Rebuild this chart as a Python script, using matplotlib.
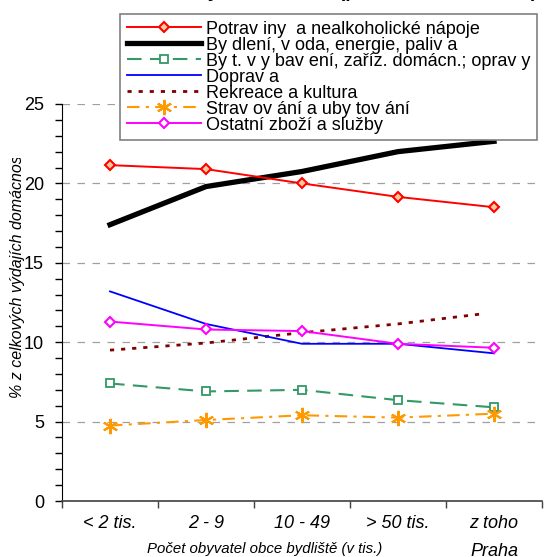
import matplotlib
matplotlib.use("Agg")
import matplotlib.pyplot as plt
from matplotlib.transforms import Bbox, TransformedBbox
from matplotlib.ticker import MultipleLocator, FixedLocator, NullFormatter

plt.rcParams["font.family"] = ["Liberation Sans", "DejaVu Sans"]

# Data
categories = ["< 2 tis.", "2 - 9", "10 - 49", "> 50 tis.", "z toho\nPraha"]
potraviny = [21.15, 20.9, 20.0, 19.15, 18.5]
bydleni = [17.4, 19.8, 20.75, 22.0, 22.65]
vybaveni = [7.4, 6.9, 7.0, 6.35, 5.9]
doprava = [13.2, 11.15, 9.9, 9.9, 9.3]
rekreace = [9.5, 9.95, 10.6, 11.15, 11.8]
stravovani = [4.75, 5.1, 5.4, 5.25, 5.5]
ostatni = [11.3, 10.8, 10.7, 9.9, 9.65]

# legend texts as they are rendered in the reference
labels = ["Potrav iny  a nealkoholické nápoje",
          "By dlení, v oda, energie, paliv a",
          "By t. v y bav ení, zaříz. domácn.; oprav y",
          "Doprav a",
          "Rekreace a kultura",
          "Strav ov ání a uby tov ání",
          "Ostatní zboží a služby"]

x = list(range(len(categories)))

fig = plt.figure(figsize=(5.49, 5.57), dpi=100)
ax = fig.add_axes([62 / 549, 1 - 501 / 557, 480 / 549, 397 / 557])

ax.plot(x, potraviny, color="#FF0000", lw=1.4, marker="D", ms=5,
        mfc="#FFCC99", mec="#FF0000", mew=1.5, label=labels[0], zorder=5)
ax.plot(x, bydleni, color="black", lw=3.8, label=labels[1], zorder=4)
ax.plot(x, vybaveni, color="#339966", lw=1.5, dashes=(7, 4), marker="s", ms=6,
        mfc="white", mec="#339966", mew=1.3, label=labels[2], zorder=4)
ax.plot(x, doprava, color="#0000FF", lw=1.3, label=labels[3], zorder=4)
ax.plot(x[:-1] + [x[-1] - 0.1], rekreace, color="#800000", lw=2, dashes=(1.5, 2.5),
        label=labels[4], zorder=3)
ax.plot(x, stravovani, color="#FF9900", lw=1.5, dashes=(6, 3, 1.5, 3), marker=(6, 2, 0),
        ms=11, mec="#FF9900", mew=1.5, label=labels[5], zorder=4)
ax.plot(x, ostatni, color="#FF00FF", lw=1.4, marker="D", ms=5,
        mfc="white", mec="#FF00FF", mew=1.5, label=labels[6], zorder=5)

ax.set_xlim(-0.5, 4.5)
ax.set_ylim(0, 25)

ax.yaxis.set_major_locator(MultipleLocator(5))
ax.yaxis.set_minor_locator(MultipleLocator(1))
ax.grid(axis="y", which="major", color="#A0A0A0", ls=(0, (6, 6)), lw=0.9)
ax.set_axisbelow(True)

ax.xaxis.set_major_locator(FixedLocator(x))
ax.set_xticklabels(categories, fontsize=13, style="italic", linespacing=1.85)
ax.xaxis.set_minor_locator(FixedLocator([i - 0.5 for i in range(6)]))
ax.xaxis.set_minor_formatter(NullFormatter())
ax.tick_params(axis="x", which="major", length=0, pad=10)
ax.tick_params(axis="x", which="minor", length=5, width=1, color="#404040", direction="out")
ax.tick_params(axis="y", which="both", length=5, width=1, direction="out", labelsize=13, pad=8)

for s in ["top", "right"]:
    ax.spines[s].set_visible(False)
ax.spines["left"].set_color("black")
ax.spines["bottom"].set_color("#404040")
ax.spines["bottom"].set_linewidth(1.2)

leg = ax.legend(loc="upper left", bbox_to_anchor=(120 / 549, 1 - 14 / 557),
                bbox_transform=fig.transFigure, fontsize=13, frameon=True,
                fancybox=False, framealpha=1, edgecolor="#808080",
                handlelength=4.15, handletextpad=0.28, labelspacing=-0.055,
                borderpad=0.36, borderaxespad=0, numpoints=1)
leg.get_frame().set_linewidth(1.2)
leg.set_zorder(10)

# title, cut off at the top of the picture
fig.text(537 / 549, 1 + 3 / 557, "Náklady domácností (podle velikosti obce)",
         ha="right", va="baseline", fontsize=14, fontweight="bold")

# y label, clipped at the top like in the reference
ylab = fig.text(18 / 549, 1 - 398 / 557, "% z celkových výdajích domácností",
                rotation=90, ha="center", va="bottom", fontsize=11.5, style="italic")
ylab.set_clip_on(True)
ylab.set_clip_box(TransformedBbox(Bbox.from_extents(0, 0, 1, 1 - 158 / 557), fig.transFigure))

fig.text(265 / 549, 1 - 553 / 557, "Počet obyvatel obce bydliště (v tis.)",
         ha="center", va="baseline", fontsize=10.8, style="italic")

fig.savefig("out.png", dpi=100)
